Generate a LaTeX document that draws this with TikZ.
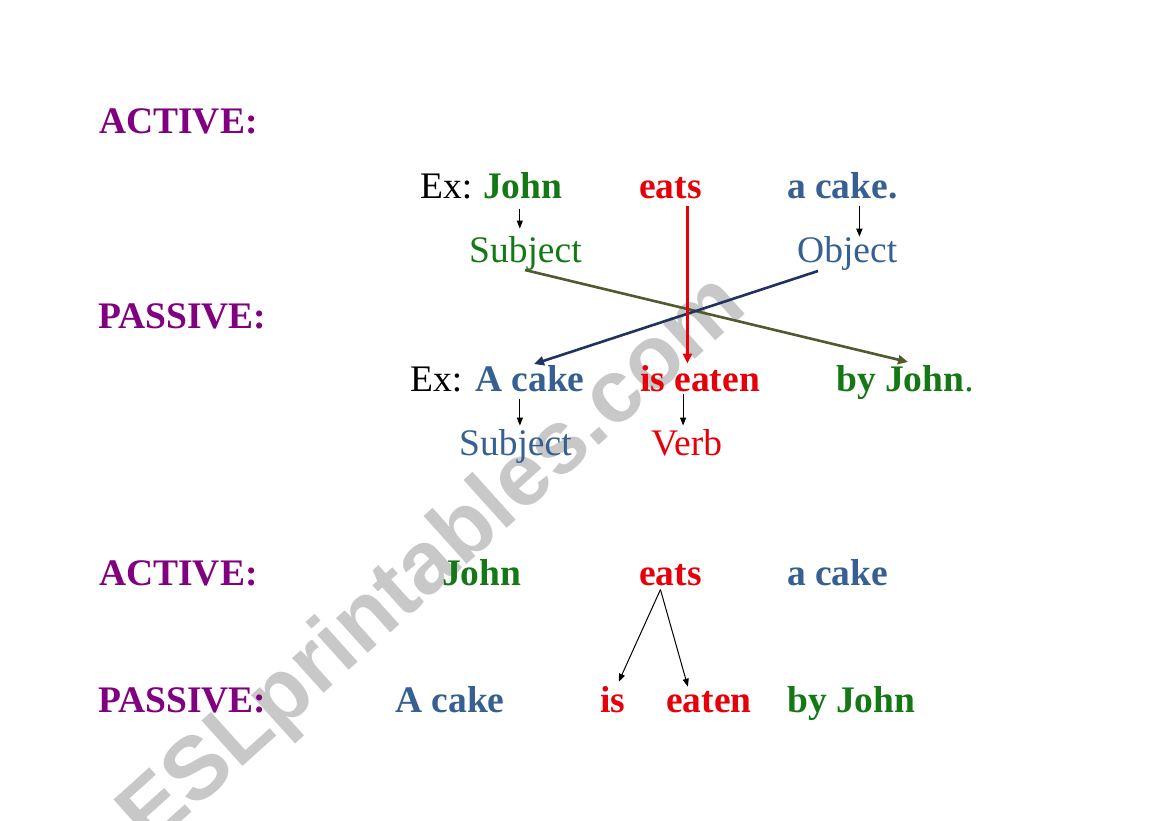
\documentclass[tikz,border=0pt]{standalone}
\usepackage{fontspec}
\setmainfont{Liberation Serif}
\newfontfamily\wmfont{Liberation Sans}
\usetikzlibrary{arrows.meta,calc}
\definecolor{cpurple}{RGB}{128,0,128}
\definecolor{cgreen}{RGB}{20,120,20}
\definecolor{cred}{RGB}{230,0,10}
\definecolor{cblue}{RGB}{55,96,146}
\definecolor{colive}{RGB}{79,90,45}
\definecolor{cnavy}{RGB}{31,50,96}
\definecolor{wmgray}{RGB}{200,200,200}
\tikzset{
  txt/.style={anchor=base west,inner sep=0pt,font=\fontsize{37.5}{40}\selectfont},
  lbl/.style={txt,font=\fontsize{37.5}{40}\selectfont\bfseries,text=cpurple},
  bw/.style={txt,font=\fontsize{37.5}{40}\selectfont\bfseries},
  small/.style={-{Triangle[length=8pt,width=6pt]},line width=1pt,black},
  big/.style={-{Triangle[length=10pt,width=9pt]},line width=2.6pt}
}
\begin{document}
\begin{tikzpicture}[x=1pt,y=-1pt]
\useasboundingbox (0,0) rectangle (1169,821);
\fill[white] (0,0) rectangle (1169,821);
\begin{scope}
\clip (0,0) rectangle (1169,821);
\node[anchor=base west,inner sep=0pt,rotate=42,text=wmgray,font=\wmfont\fontsize{89}{89}\selectfont\bfseries] (wm) at (150,850) {ESLprintables.com};
\end{scope}
% row 1
\node[lbl] (act1) at (99,134) {ACTIVE:};
\node[txt] (ex1) at (420,199) {Ex:};
\node[bw,text=cgreen] (john1) at (483,199) {John};
\node[bw,text=cred] (eats1) at (639,199) {eats};
\node[bw,text=cblue] (cake1) at (787,199) {a cake.};
\node[txt,text=cgreen] (subj1) at (469,262) {Subject};
\node[txt,text=cblue] (obj1) at (797,262) {Object};
% row 2
\node[lbl] (pass1) at (98,328) {PASSIVE:};
\node[txt] (ex2) at (410,391) {Ex:};
\node[bw,text=cblue] (acake2) at (475,391) {A cake};
\node[bw,text=cred] (iseaten2) at (640,391) {is eaten};
\node[txt,text=cgreen] (byjohn2) at (836,391) {\textbf{by John}.};
\node[txt,text=cblue] (subj2) at (459,455) {Subject};
\node[txt,text=cred] (verb2) at (651,455) {Verb};
% row 3
\node[lbl] (act3) at (99,585) {ACTIVE:};
\node[bw,text=cgreen] (john3) at (442,585) {John};
\node[bw,text=cred] (eats3) at (639,585) {eats};
\node[bw,text=cblue] (cake3) at (787,585) {a cake};
% row 4
\node[lbl] (pass3) at (98,712) {PASSIVE:};
\node[bw,text=cblue] (acake3) at (395,712) {A cake};
\node[bw,text=cred] (is3) at (600,712) {is};
\node[bw,text=cred] (eaten3) at (666,712) {eaten};
\node[bw,text=cgreen] (byjohn3) at (787,712) {by John};
% coordinates for connector ends
\coordinate (s1a) at (525,270);
\coordinate (bja) at (908,362);
\coordinate (oba) at (818,271);
\coordinate (aca) at (534,364);
% connectors
\draw[small] ($(john1.south)+(-3,9)$) -- ($(john1.south)+(-3,29)$);
\draw[small,line width=1.6pt] ($(cake1.south)+(17,6)$) -- ($(cake1.south)+(17,37)$);
\draw[big,colive] (s1a) -- (bja);
\draw[big,cnavy] (oba) -- (aca);
\draw[big,cred] ($(eats1.south)+(17,6)$) -- ($(eats1.south)+(17,164)$);
\draw[small] ($(acake2.south)+(-10,7)$) -- ($(acake2.south)+(-10,34)$);
\draw[small] ($(iseaten2.south)+(-17,2)$) -- ($(iseaten2.south)+(-17,34)$);
\draw[small] ($(eats3.south)+(-10,4)$) -- ($(is3.north)+(6,-4)$);
\draw[small] ($(eats3.south)+(-10,4)$) -- ($(eaten3.north)+(-21,-4)$);
\end{tikzpicture}
\end{document}
